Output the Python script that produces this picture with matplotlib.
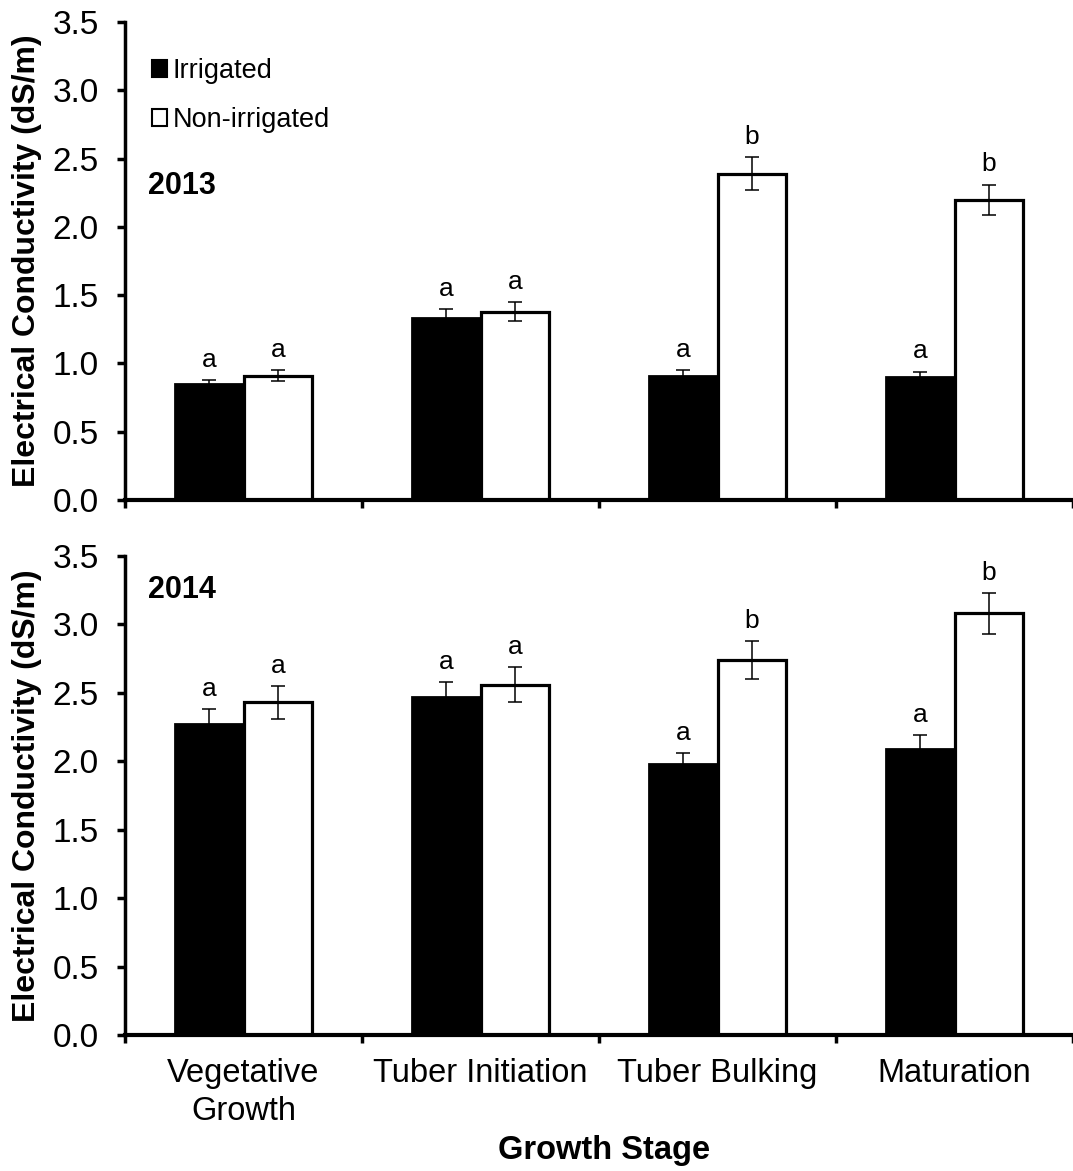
import matplotlib
matplotlib.use("Agg")
import matplotlib.pyplot as plt
import numpy as np
from matplotlib.patches import Patch

plt.rcParams['font.family'] = ['Liberation Sans', 'DejaVu Sans']

stages = ["Vegetative\nGrowth", "Tuber Initiation", "Tuber Bulking", "Maturation"]
yticks = [0.0, 0.5, 1.0, 1.5, 2.0, 2.5, 3.0, 3.5]

irr_2013 = [0.85, 1.33, 0.91, 0.90]
irr_2013_err = [0.03, 0.07, 0.04, 0.04]
non_2013 = [0.91, 1.38, 2.39, 2.20]
non_2013_err = [0.04, 0.07, 0.12, 0.11]
irr_2013_letters = ["a", "a", "a", "a"]
non_2013_letters = ["a", "a", "b", "b"]

irr_2014 = [2.27, 2.47, 1.98, 2.09]
irr_2014_err = [0.11, 0.11, 0.08, 0.10]
non_2014 = [2.43, 2.56, 2.74, 3.08]
non_2014_err = [0.12, 0.13, 0.14, 0.15]
irr_2014_letters = ["a", "a", "a", "a"]
non_2014_letters = ["a", "a", "b", "b"]

W, H = 1073, 1171
fig = plt.figure(figsize=(W / 100, H / 100), dpi=100)

left = 125 / W
right = 1.0
ax1 = fig.add_axes([left, 1 - 500 / H, right - left, (500 - 22) / H])
ax2 = fig.add_axes([left, 1 - 1035 / H, right - left, (1035 - 556) / H])

x = np.arange(len(stages))
bw = 0.29


def draw(ax, irr, irr_err, non, non_err, irr_let, non_let):
    ax.bar(x - bw / 2, irr, bw, color="black", edgecolor="black", linewidth=2, zorder=2)
    ax.bar(x + bw / 2, non, bw, color="white", edgecolor="black", linewidth=2.3, zorder=2)
    ax.errorbar(x - bw / 2, irr, yerr=irr_err, fmt="none", ecolor="black",
                elinewidth=1.1, capsize=5, capthick=1.1, zorder=3)
    ax.errorbar(x + bw / 2, non, yerr=non_err, fmt="none", ecolor="black",
                elinewidth=1.1, capsize=5, capthick=1.1, zorder=3)
    for i in range(len(x)):
        ax.text(x[i] - bw / 2, irr[i] + irr_err[i] + 0.06, irr_let[i],
                ha="center", va="bottom", fontsize=19)
        ax.text(x[i] + bw / 2, non[i] + non_err[i] + 0.06, non_let[i],
                ha="center", va="bottom", fontsize=19)
    ax.set_xlim(-0.5, -0.5 + (W - 125) / 239.0)
    ax.set_ylim(0, 3.5)
    ax.set_yticks(yticks)
    ax.set_yticklabels([f"{t:.1f}" for t in yticks], fontsize=24)
    ax.set_xticks(np.arange(-0.5, 4.0, 1.0))
    ax.set_xticklabels([])
    ax.spines["top"].set_visible(False)
    ax.spines["right"].set_visible(False)
    ax.spines["left"].set_linewidth(2.5)
    ax.spines["bottom"].set_linewidth(3)
    ax.tick_params(axis="y", direction="out", length=6, width=2.5, pad=13)
    ax.tick_params(axis="x", direction="out", length=6, width=2.5)
    ax.set_ylabel("Electrical Conductivity (dS/m)", fontsize=23, fontweight="bold")
    ax.yaxis.set_label_coords(-0.088, 0.5)


draw(ax1, irr_2013, irr_2013_err, non_2013, non_2013_err, irr_2013_letters, non_2013_letters)
draw(ax2, irr_2014, irr_2014_err, non_2014, non_2014_err, irr_2014_letters, non_2014_letters)

fig.text(148 / W, 1 - 186 / H, "2013", fontsize=22, fontweight="bold", ha="left", va="center")
fig.text(148 / W, 1 - 590 / H, "2014", fontsize=22, fontweight="bold", ha="left", va="center")

for i, s in enumerate(stages):
    ax2.text(x[i], -0.17, s, ha="center", va="top", fontsize=23.5, linespacing=1.3)
fig.text(604 / W, 1 - 1151 / H, "Growth Stage", ha="center", va="center",
         fontsize=23.5, fontweight="bold")

handles = [Patch(facecolor="black", edgecolor="black", linewidth=1.5, label="Irrigated"),
           Patch(facecolor="white", edgecolor="black", linewidth=1.5, label="Non-irrigated")]
fig.legend(handles=handles, loc="upper left", bbox_to_anchor=(152 / W, 1 - 58 / H),
           frameon=False, fontsize=19.5, handlelength=0.55, handleheight=0.55,
           handletextpad=0.2, labelspacing=0.85, borderaxespad=0, borderpad=0)

fig.savefig("out.png", dpi=100, facecolor="white")
